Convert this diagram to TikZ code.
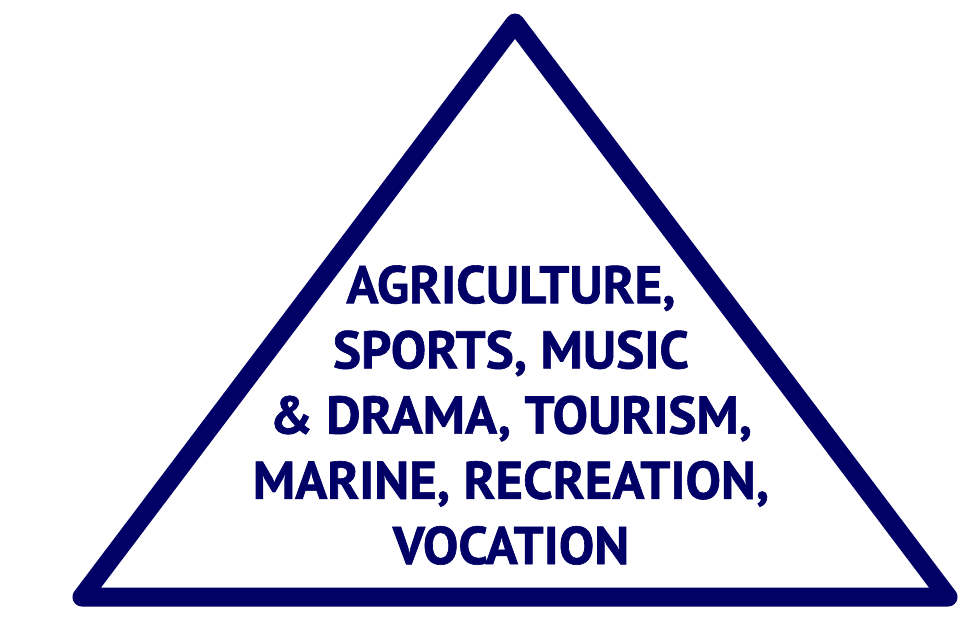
\documentclass[tikz,border=0pt]{standalone}
\usepackage{fontspec}
\newfontfamily\labelfont{PT Sans}[FakeBold=1.2]
\definecolor{navy}{RGB}{0,0,102}
\begin{document}
\begin{tikzpicture}[x=1pt,y=-1pt,
  edge/.style={draw=navy,line width=19pt,line join=round,line cap=round},
  label/.style={text=navy,font=\labelfont\bfseries\fontsize{53}{65.2}\selectfont,align=center,inner sep=0pt}]
\useasboundingbox (0,0) rectangle (978,618);
\coordinate (top) at (515,23);
\coordinate (left) at (82,597);
\coordinate (right) at (948,597);
\draw[edge] (top) -- (left) -- (right) -- cycle;
\node[label,anchor=base] (txt) at (511,564) {AGRICULTURE,\\SPORTS, MUSIC\\\& DRAMA, TOURISM,\\MARINE, RECREATION,\\VOCATION};
\end{tikzpicture}
\end{document}
